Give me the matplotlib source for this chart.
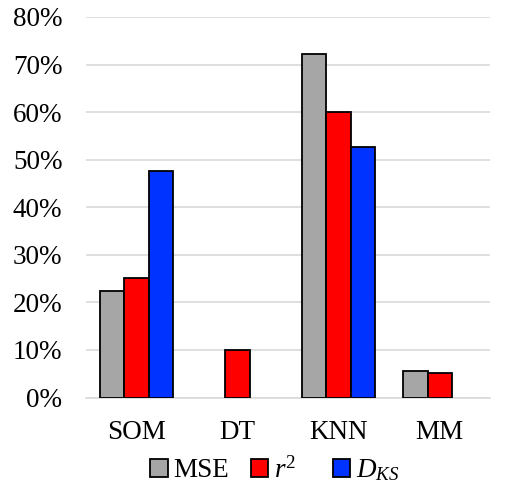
import matplotlib
matplotlib.use("Agg")
import matplotlib.pyplot as plt
import numpy as np
from matplotlib.patches import Patch
from matplotlib.ticker import FuncFormatter

categories = ["SOM", "DT", "KNN", "MM"]
mse = [22.4, 0.0, 72.3, 5.6]
r2 = [25.2, 10.0, 60.0, 5.2]
dks = [47.6, 0.0, 52.7, 0.0]
series_labels = ["MSE", r"$r^2$" + "   ", r"$D_{KS}$"]
colors = ["#a6a6a6", "#ff0000", "#0033ff"]

plt.rcParams["font.family"] = ["Liberation Serif", "DejaVu Serif"]
plt.rcParams["mathtext.fontset"] = "custom"
plt.rcParams["mathtext.it"] = "Liberation Serif:italic"
plt.rcParams["mathtext.rm"] = "Liberation Serif"

fig = plt.figure(figsize=(5.09, 4.97), dpi=100)
ax = fig.add_axes([0.169, 0.2002, 0.794, 0.7656])

x = np.arange(len(categories))
w = 0.24
for i, (vals, c) in enumerate(zip([mse, r2, dks], colors)):
    v = np.array(vals)
    mask = v > 0
    ax.bar(x[mask] + (i - 1) * w, v[mask], width=w, color=c,
           edgecolor="black", linewidth=1.3, zorder=3)

ax.set_xlim(-0.5, 3.5)
ax.set_ylim(0, 80)
ax.set_yticks(np.arange(0, 81, 10))
ax.yaxis.set_major_formatter(FuncFormatter(lambda v, p: f"{int(v)}%"))
ax.set_xticks(x)
ax.set_xticklabels(categories)
ax.grid(axis="y", color="#d9d9d9", linewidth=1.2, zorder=0)
for s in ["top", "right", "left"]:
    ax.spines[s].set_visible(False)
ax.spines["bottom"].set_color("#d9d9d9")
ax.spines["bottom"].set_linewidth(1.2)
ax.tick_params(axis="both", length=0, labelsize=19.5, colors="black")
ax.tick_params(axis="y", pad=17)
ax.tick_params(axis="x", pad=16)

handles = [Patch(facecolor=c, edgecolor="black", linewidth=1.3) for c in colors]
fig.legend(handles, series_labels, loc="center", bbox_to_anchor=(0.54, 0.054),
           ncol=3, frameon=False, fontsize=19.5, handlelength=0.65,
           handleheight=0.65, handletextpad=0.2, columnspacing=0.8)

fig.savefig("out.png", dpi=100)
